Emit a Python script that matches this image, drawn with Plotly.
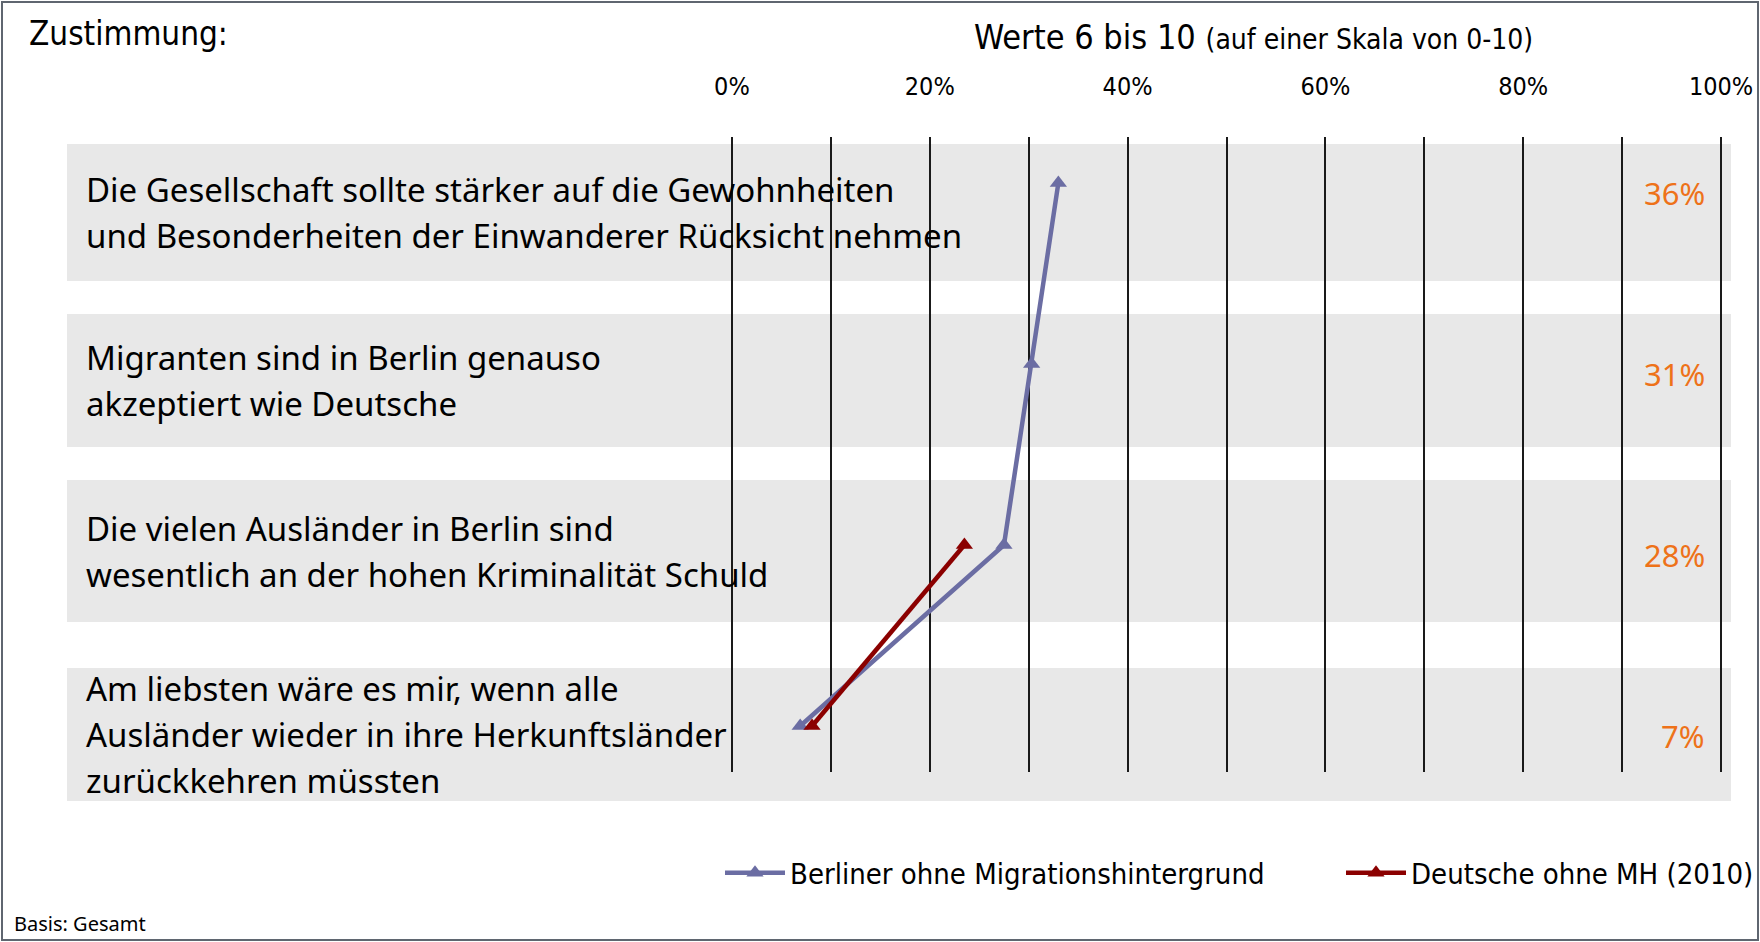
import plotly.graph_objects as go

# ---- data ----
statements = [
    "Die Gesellschaft sollte stärker auf die Gewohnheiten<br>und Besonderheiten der Einwanderer Rücksicht nehmen",
    "Migranten sind in Berlin genauso<br>akzeptiert wie Deutsche",
    "Die vielen Ausländer in Berlin sind<br>wesentlich an der hohen Kriminalität Schuld",
    "Am liebsten wäre es mir, wenn alle<br>Ausländer wieder in ihre Herkunftsländer<br>zurückkehren müssten",
]
positions = [0, 1, 2, 3]
berliner_ohne_mh = [33.0, 30.3, 27.5, 6.9]
deutsche_ohne_mh_2010 = [None, None, 23.5, 8.1]
zustimmung_gesamt = [36, 31, 28, 7]
tick_values = [0, 10, 20, 30, 40, 50, 60, 70, 80, 90, 100]
tick_labels = ["0%", "", "20%", "", "40%", "", "60%", "", "80%", "", "100%"]

series_names = ["Berliner ohne Migrationshintergrund", "Deutsche ohne MH (2010)"]
series_colors = ["#6B6DA3", "#8B0000"]
legend_ids = ["legend", "legend2"]

# ---- layout geometry (pixels of the 1760x942 page) ----
W, H = 1760, 942
PLOT_L, PLOT_R = 727, 1726      # x range [-0.5, 100.5]
PLOT_T, PLOT_B = 137, 772


def px_x(p):
    return (p - PLOT_L) / (PLOT_R - PLOT_L)


def px_y(p):
    return (PLOT_B - p) / (PLOT_B - PLOT_T)


COND = "DejaVu Sans Condensed, Liberation Sans Narrow, sans-serif"
BODY = "Noto Sans, Open Sans, sans-serif"

fig = go.Figure()
for name, vals, col, lg in zip(series_names, [berliner_ohne_mh, deutsche_ohne_mh_2010],
                               series_colors, legend_ids):
    fig.add_trace(go.Scatter(
        x=vals, y=positions, name=name, mode="lines+markers", legend=lg,
        line=dict(color=col, width=4.5),
        marker=dict(symbol="triangle-up", size=15, color=col),
        connectgaps=False, cliponaxis=False,
    ))

shapes = []
# grey row bands behind each statement
bands = [(144, 281), (314, 447), (480, 622), (668, 801)]
for top, bot in bands:
    shapes.append(dict(type="rect", xref="paper", yref="paper",
                       x0=px_x(67), x1=px_x(1731), y0=px_y(bot), y1=px_y(top),
                       fillcolor="#E8E8E8", line=dict(width=0), layer="below"))
# outer frame
shapes.append(dict(type="rect", xref="paper", yref="paper",
                   x0=px_x(2), x1=px_x(W - 2), y0=px_y(H - 2), y1=px_y(2),
                   line=dict(color="#5F6670", width=2), fillcolor="rgba(0,0,0,0)"))

annotations = []
# statement texts, one annotation per line, centred in the band
line_gap = 46
for (top, bot), text in zip(bands, statements):
    lines = text.split("<br>")
    centre = (top + bot) / 2
    first = centre - line_gap * (len(lines) - 1) / 2
    for k, ln in enumerate(lines):
        annotations.append(dict(
            text=ln, xref="paper", yref="paper", x=px_x(84), y=px_y(first + k * line_gap),
            xanchor="left", yanchor="middle", showarrow=False,
            font=dict(family=BODY, size=33, color="#000000")))

# overall agreement values on the right
for pos, val in zip(positions, zustimmung_gesamt):
    annotations.append(dict(
        text=f"{val}%", xref="paper", yref="y", x=px_x(1707), y=pos, yshift=-10,
        xanchor="right", yanchor="middle", showarrow=False,
        font=dict(family=BODY, size=31, color="#EE7219")))

annotations += [
    dict(text="Zustimmung:", xref="paper", yref="paper", x=px_x(27), y=px_y(34),
         xanchor="left", yanchor="middle", showarrow=False,
         font=dict(family=COND, size=33, color="#000000")),
    dict(text="Werte 6 bis 10 <span style='font-size:28px'>(auf einer Skala von 0-10)</span>",
         xref="paper", yref="paper", x=px_x(972), y=px_y(37),
         xanchor="left", yanchor="middle", showarrow=False,
         font=dict(family=COND, size=34, color="#000000")),
    dict(text="Basis: Gesamt", xref="paper", yref="paper", x=px_x(12), y=px_y(923),
         xanchor="left", yanchor="middle", showarrow=False,
         font=dict(family=BODY, size=20, color="#000000")),
]

legend_style = dict(orientation="h", yanchor="middle", xanchor="left",
                    xref="container", yref="container", y=1 - 873 / H,
                    font=dict(family=COND, size=29, color="#000000"),
                    itemwidth=60, bgcolor="rgba(0,0,0,0)")

fig.update_layout(
    width=W, height=H,
    margin=dict(l=PLOT_L, r=W - PLOT_R, t=PLOT_T, b=H - PLOT_B, pad=0, autoexpand=False),
    paper_bgcolor="#FFFFFF", plot_bgcolor="rgba(0,0,0,0)",
    showlegend=True,
    legend=dict(legend_style, x=720 / W),
    legend2=dict(legend_style, x=1341 / W),
    shapes=shapes, annotations=annotations,
)
fig.update_xaxes(range=[-0.5, 100.5], side="top", tickvals=tick_values, ticktext=tick_labels,
                 showgrid=True, gridcolor="#1A1A1A", gridwidth=1.6, zeroline=False,
                 showline=False, ticks="", ticklabelstandoff=36,
                 tickfont=dict(family=COND, size=25, color="#000000"), fixedrange=True)
fig.update_yaxes(range=[3.254, -0.254], showgrid=False, zeroline=False, showticklabels=False,
                 showline=False, fixedrange=True)

fig.write_html("out.html")
